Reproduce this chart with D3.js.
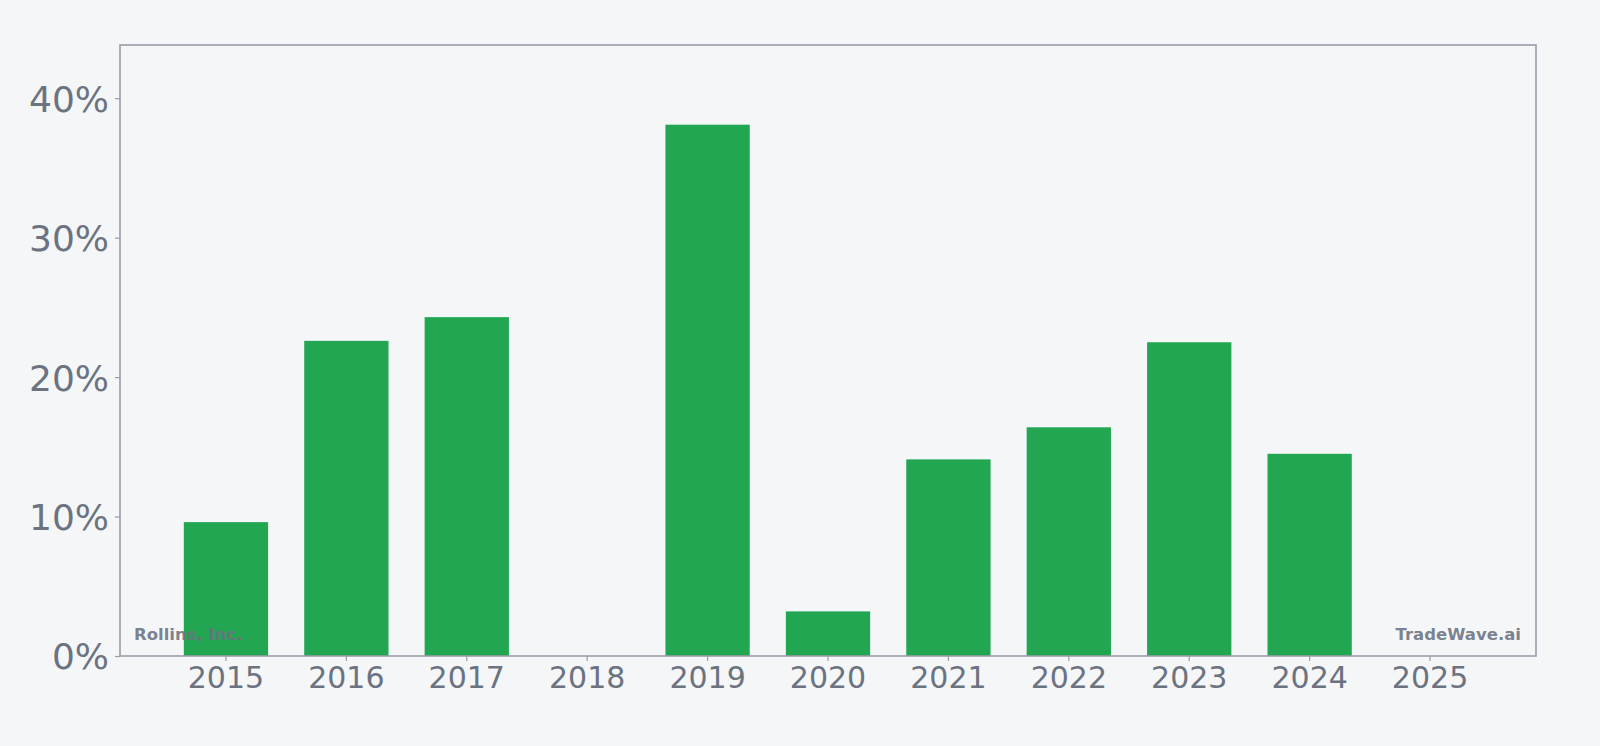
<!DOCTYPE html>
<html>
<head>
<meta charset="utf-8">
<script src="https://cdn.jsdelivr.net/npm/d3@7/dist/d3.min.js"></script>
<style>
  html, body { margin: 0; padding: 0; background: #f4f6f8; }
  svg { display: block; }
  text { font-family: "DejaVu Sans", sans-serif; }
</style>
</head>
<body>
<svg id="chart" width="1600" height="746"></svg>
<script>
// Data
const years = ["2015", "2016", "2017", "2018", "2019", "2020", "2021", "2022", "2023", "2024", "2025"];
const values = [0.096, 0.226, 0.243, 0, 0.381, 0.032, 0.141, 0.164, 0.225, 0.145, null];
const yTicks = [0, 0.1, 0.2, 0.3, 0.4];
const company = "Rollins, Inc.";
const brand = "TradeWave.ai";

const svg = d3.select("#chart");
const W = 1600, H = 746;
const m = { left: 120, right: 64, top: 45, bottom: 90 };
const x0 = m.left, x1 = W - m.right, y0 = H - m.bottom, y1 = m.top;

const textColor = "#6b7280";
const frameColor = "#9a9ca8";
const barColor = "#22a652";

const x = d3.scaleBand().domain(years).range([x0, x1]).paddingInner(0.3).paddingOuter(0.53);
const yMax = d3.max(values) * 1.15;
const y = d3.scaleLinear().domain([0, yMax]).range([y0, y1]);

// Bars
svg.append("g").selectAll("rect")
  .data(years.map((yr, i) => ({ yr, v: values[i] })).filter(d => d.v != null && d.v > 0))
  .join("rect")
  .attr("x", d => x(d.yr))
  .attr("width", x.bandwidth())
  .attr("y", d => y(d.v))
  .attr("height", d => y(0) - y(d.v))
  .attr("fill", barColor);

// Frame
svg.append("rect")
  .attr("x", x0).attr("y", y1)
  .attr("width", x1 - x0).attr("height", y0 - y1)
  .attr("fill", "none").attr("stroke", frameColor).attr("stroke-width", 1.6);

// Y axis
const yAxis = svg.append("g").attr("transform", `translate(${x0},0)`)
  .call(d3.axisLeft(y).tickValues(yTicks).tickFormat(d => Math.round(d * 100) + "%").tickSize(5).tickPadding(6));
yAxis.select(".domain").remove();
yAxis.selectAll(".tick line").attr("stroke", frameColor).attr("stroke-width", 1.2);
yAxis.selectAll(".tick text").attr("fill", textColor).style("font-size", "36px").attr("dy", "0.36em");

// X axis
const xAxis = svg.append("g").attr("transform", `translate(0,${y0})`)
  .call(d3.axisBottom(x).tickSize(5).tickPadding(6));
xAxis.select(".domain").remove();
xAxis.selectAll(".tick line").attr("stroke", frameColor).attr("stroke-width", 1.2);
xAxis.selectAll(".tick text").attr("fill", textColor).style("font-size", "30px");

// Watermarks
svg.append("text").attr("x", x0 + 14).attr("y", y0 - 16)
  .attr("fill", textColor).attr("fill-opacity", 0.9)
  .style("font-size", "16.5px").style("font-weight", "bold")
  .text(company);
svg.append("text").attr("x", x1 - 15).attr("y", y0 - 16)
  .attr("text-anchor", "end")
  .attr("fill", textColor).attr("fill-opacity", 0.9)
  .style("font-size", "16.5px").style("font-weight", "bold")
  .text(brand);
</script>
</body>
</html>
